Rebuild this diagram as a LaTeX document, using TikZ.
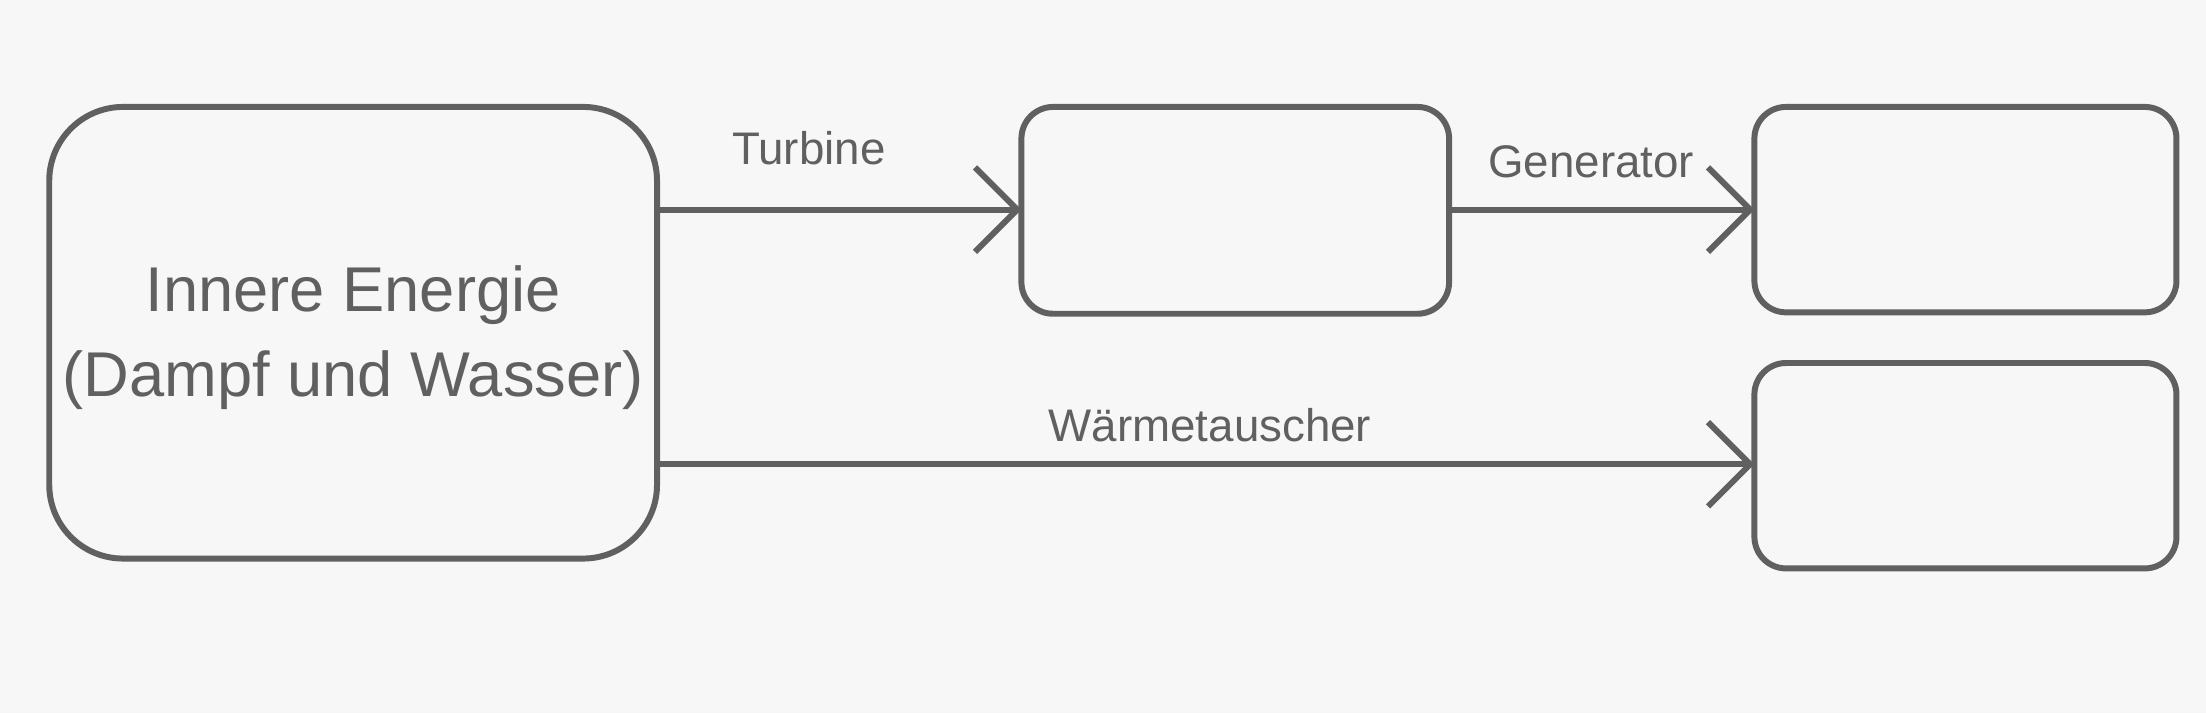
\documentclass[tikz,border=0pt]{standalone}
\usepackage{fontspec}
\setmainfont{Liberation Sans}
\usetikzlibrary{arrows.meta}
\definecolor{ln}{HTML}{606060}
\begin{document}
\begin{tikzpicture}[x=0.01407cm,y=-0.01407cm,
  box/.style={draw=ln,line width=1.7pt,minimum width=#1},
  arr/.style={draw=ln,line width=1.7pt,-{Straight Barb[length=12pt,width=24pt,line width=1.7pt]}},
  lbl/.style={text=ln,font=\fontsize{13}{15}\selectfont}]
\fill[white!97!black] (0,0) rectangle (1568,507);
\draw[ln,line width=1.7pt,rounded corners=21pt] (35,76) rectangle (467,397);
\node[text=ln,font=\fontsize{18}{22}\selectfont,align=center] (a) at (251,240) {Innere Energie\\[2pt](Dampf und Wasser)};
\coordinate (aE1) at (467,149);
\coordinate (aE2) at (467,330);
\draw[ln,line width=1.7pt,rounded corners=9pt] (726,76) rectangle (1030,223);
\coordinate (bW) at (726,149); \coordinate (bE) at (1030,149);
\draw[ln,line width=1.7pt,rounded corners=9pt] (1247,76) rectangle (1547,222);
\coordinate (cW) at (1247,149);
\draw[ln,line width=1.7pt,rounded corners=9pt] (1247,258) rectangle (1547,404);
\coordinate (dW) at (1247,330);
\draw[arr] (aE1) -- (bW);
\draw[arr] (bE) -- (cW);
\draw[arr] (aE2) -- (dW);
\node[lbl] (t) at (575,105) {Turbine};
\node[lbl] (g) at (1131,115) {Generator};
\node[lbl] (w) at (860,302) {Wärmetauscher};
\end{tikzpicture}
\end{document}
